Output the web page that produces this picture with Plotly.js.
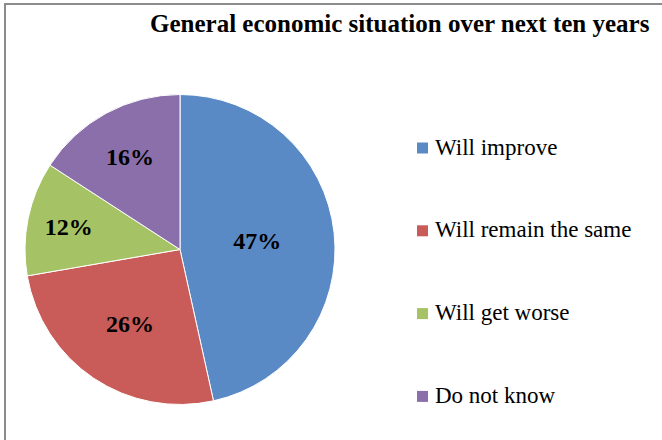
<!DOCTYPE html>
<html>
<head>
<meta charset="utf-8">
<script src="https://cdn.plot.ly/plotly-3.0.1.min.js"></script>
<style>html,body{margin:0;padding:0;background:#fff;}#chart{width:662px;height:440px;}</style>
</head>
<body>
<div id="chart"></div>
<script>
const categories = ["Will improve", "Will remain the same", "Will get worse", "Do not know"];
const values = [47, 26, 12, 16];
const colors = ["#5A8AC6", "#C95B58", "#A5C264", "#8A6FAB"];
const titleText = "General economic situation over next ten years";

const W = 662, H = 440;
const serif = "Times New Roman, Liberation Serif, DejaVu Serif, serif";

// pie geometry (pixels)
const cx = 180, cy = 249.5, r = 155;

const trace = {
  type: "pie",
  labels: categories,
  values: values,
  sort: false,
  direction: "clockwise",
  rotation: 0,
  marker: {colors: colors, line: {color: "#ffffff", width: 1}},
  texttemplate: "<b>%{value}%</b>",
  textposition: "inside",
  insidetextorientation: "horizontal",
  textfont: {family: serif, size: 24, color: "#000000"},
  showlegend: false,
  hoverinfo: "label+percent",
  domain: {
    x: [(cx - r) / W, (cx + r) / W],
    y: [(H - cy - r) / H, (H - cy + r) / H]
  }
};

// custom legend built from the category / colour arrays
const legTop = 148, legGap = 82.8, sqX0 = 417, sqSize = 11, txtX = 433;
const shapes = [{
  type: "rect", xref: "paper", yref: "paper",
  x0: 5 / W, x1: 1.2, y0: -0.2, y1: 1 - 4 / H,
  line: {color: "#8C8C8C", width: 2}, fillcolor: "rgba(0,0,0,0)"
}];
const annotations = [];
categories.forEach((c, i) => {
  const yc = legTop + i * legGap;
  shapes.push({
    type: "rect", xref: "paper", yref: "paper",
    x0: sqX0 / W, x1: (sqX0 + sqSize) / W,
    y0: 1 - (yc + sqSize / 2) / H, y1: 1 - (yc - sqSize / 2) / H,
    line: {width: 0}, fillcolor: colors[i]
  });
  annotations.push({
    xref: "paper", yref: "paper", x: txtX / W, y: 1 - (yc - 1) / H,
    xanchor: "left", yanchor: "middle", showarrow: false,
    text: c, font: {family: serif, size: 23, color: "#000000"}
  });
});

const layout = {
  width: W, height: H,
  margin: {l: 0, r: 0, t: 0, b: 0},
  paper_bgcolor: "#ffffff",
  plot_bgcolor: "#ffffff",
  font: {family: serif},
  title: {
    text: "<b>" + titleText + "</b>",
    font: {family: serif, size: 25, color: "#000000"},
    xref: "container", yref: "container",
    x: 150 / W, xanchor: "left",
    y: 1 - 23 / H, yanchor: "middle"
  },
  shapes: shapes,
  annotations: annotations
};

Plotly.newPlot("chart", [trace], layout, {displayModeBar: false, staticPlot: true});
</script>
</body>
</html>
